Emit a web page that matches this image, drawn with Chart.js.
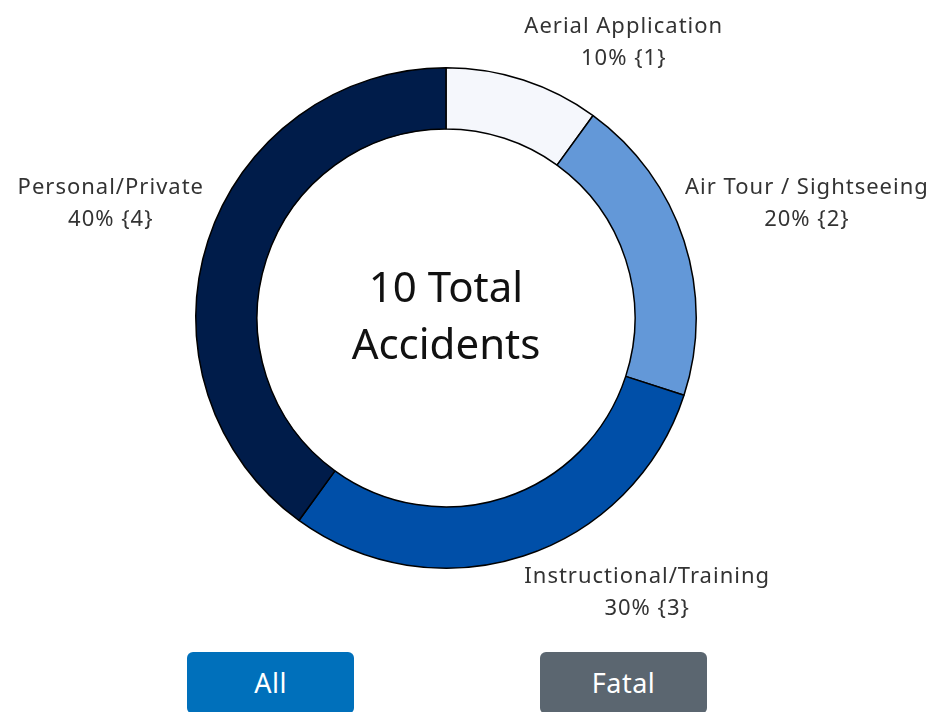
<!DOCTYPE html>
<html>
<head>
<meta charset="utf-8">
<script src="https://cdn.jsdelivr.net/npm/chart.js@4"></script>
<style>
  html, body { margin: 0; padding: 0; background: #fff; }
  #wrap { position: relative; width: 937px; height: 712px; overflow: hidden; }
  #chart { position: absolute; left: 0; top: 0; }
  .btn {
    position: absolute; top: 652px; height: 62px; width: 167px;
    border-radius: 6px; color: #fff; font-family: "Noto Sans", sans-serif;
    font-size: 27px; text-align: center; line-height: 62px; letter-spacing: 0.5px;
  }
  #btnAll { left: 187px; background: #0070bb; }
  #btnFatal { left: 540px; background: #5b6670; }
</style>
</head>
<body>
<div id="wrap">
  <canvas id="chart" width="937" height="712"></canvas>
  <div class="btn" id="btnAll">All</div>
  <div class="btn" id="btnFatal">Fatal</div>
</div>
<script>
// categories and counts
var categories = ["Aerial Application", "Air Tour / Sightseeing", "Instructional/Training", "Personal/Private"];
var counts = [1, 2, 3, 4];
var sliceColors = ["#f5f7fc", "#6398d8", "#004fa8", "#001c4a"];
var centerLines = ["10 Total", "Accidents"];

var total = counts.reduce(function (a, b) { return a + b; }, 0);

// labels outside each slice + center text
var labelPlugin = {
    id: 'sliceLabels',
    afterDraw: function (chart) {
        var ctx = chart.ctx;
        var meta = chart.getDatasetMeta(0);
        ctx.save();
        ctx.fillStyle = '#333';
        ctx.font = '22px "Noto Sans", sans-serif';
        ctx.letterSpacing = '1px';
        ctx.textAlign = 'center';
        ctx.textBaseline = 'middle';
        meta.data.forEach(function (arc, i) {
            var p = arc.getProps(['x', 'y', 'startAngle', 'endAngle', 'outerRadius'], true);
            var mid = (p.startAngle + p.endAngle) / 2;
            var px = p.x + Math.cos(mid) * p.outerRadius;
            var py = p.y + Math.sin(mid) * p.outerRadius;
            var pct = Math.round(counts[i] / total * 100);
            var lines = [categories[i], pct + '% {' + counts[i] + '}'];
            var w = Math.max(ctx.measureText(lines[0]).width, ctx.measureText(lines[1]).width);
            var cxText = px >= p.x ? px + 1 + w / 2 : px - 4 - w / 2;
            var y1 = py < p.y ? py - 21 - 32 : py + 21;
            ctx.fillText(lines[0], cxText, y1);
            ctx.fillText(lines[1], cxText, y1 + 32);
        });
        var a0 = meta.data[0];
        ctx.fillStyle = '#111';
        ctx.letterSpacing = '0px';
        ctx.font = '42px "Noto Sans", sans-serif';
        ctx.fillText(centerLines[0], a0.x, a0.y - 28);
        ctx.fillText(centerLines[1], a0.x, a0.y + 29);
        ctx.restore();
    }
};

new Chart(document.getElementById("chart"), {
    type: 'doughnut',
    data: {
        labels: categories,
        datasets: [{
            data: counts,
            backgroundColor: sliceColors,
            borderColor: '#000',
            borderWidth: 1.5
        }]
    },
    options: {
        responsive: false,
        animation: false,
        cutout: '75.5%',
        layout: { padding: { left: 195, right: 240, top: 67, bottom: 143 } },
        plugins: {
            legend: { display: false },
            tooltip: { enabled: false }
        }
    },
    plugins: [labelPlugin]
});
</script>
</body>
</html>
